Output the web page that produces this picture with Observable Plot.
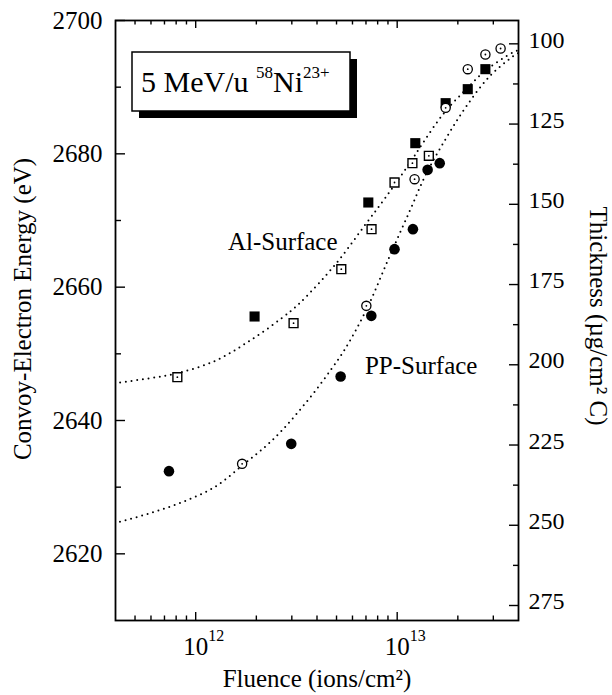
<!DOCTYPE html>
<html>
<head>
<meta charset="utf-8">
<script src="https://cdn.jsdelivr.net/npm/d3@7"></script>
<script src="https://cdn.jsdelivr.net/npm/@observablehq/plot@0.6"></script>
<style>
  html, body { margin: 0; padding: 0; background: #fff; }
  #chart { position: relative; width: 612px; height: 695px; }
</style>
</head>
<body>
<div id="chart"></div>
<script>
// ---- Data ----
// Al-surface, filled squares
const alFilledFluence = [1.96e12, 7.19e12, 1.23e13, 1.74e13, 2.24e13, 2.74e13];
const alFilledEnergy  = [2655.6, 2672.7, 2681.6, 2687.6, 2689.7, 2692.7];
// Al-surface, open squares
const alOpenFluence = [8.11e11, 3.06e12, 5.28e12, 7.46e12, 9.70e12, 1.19e13, 1.436e13];
const alOpenEnergy  = [2646.5, 2654.6, 2662.7, 2668.7, 2675.7, 2678.6, 2679.7];
// PP-surface, filled circles
const ppFilledFluence = [7.37e11, 2.98e12, 5.24e12, 7.44e12, 9.70e12, 1.197e13, 1.416e13, 1.626e13];
const ppFilledEnergy  = [2632.4, 2636.5, 2646.6, 2655.7, 2665.7, 2668.7, 2677.6, 2678.6];
// PP-surface, open circles
const ppOpenFluence = [1.70e12, 7.03e12, 1.22e13, 1.74e13, 2.24e13, 2.74e13, 3.26e13];
const ppOpenEnergy  = [2633.5, 2657.2, 2676.2, 2686.9, 2692.7, 2694.9, 2695.8];
// Fitted curves
const alCurveFluence = [3.96e11, 5.79e11, 8.11e11, 1.24e12, 1.82e12, 2.66e12, 3.28e12, 4.99e12, 7.03e12, 8.83e12, 1.153e13, 1.34e13, 1.685e13, 2.20e13, 2.77e13, 3.75e13, 4.05e13];
const alCurveEnergy  = [2645.6, 2646.3, 2647.1, 2648.9, 2651.8, 2655.3, 2657.6, 2663.6, 2669.6, 2673.6, 2678.6, 2681.6, 2685.9, 2689.7, 2692.6, 2695.2, 2695.6];
const ppCurveFluence = [3.96e11, 5.79e11, 8.49e11, 1.24e12, 1.71e12, 2.20e12, 2.66e12, 3.21e12, 3.89e12, 4.71e12, 5.48e12, 7.03e12, 9.16e12, 1.153e13, 1.393e13, 1.754e13, 2.20e13, 2.87e13, 3.75e13, 4.05e13];
const ppCurveEnergy  = [2624.6, 2626.0, 2627.7, 2630.0, 2633.3, 2636.0, 2638.4, 2641.2, 2644.3, 2647.7, 2650.6, 2656.6, 2664.6, 2671.4, 2677.0, 2682.4, 2687.1, 2691.6, 2694.6, 2695.2];

// Axis ticks
const xMajorTicks = [1e12, 1e13];
const xMajorExponents = ["12", "13"];
const xMinorTicks = [5e11, 6e11, 7e11, 8e11, 9e11, 2e12, 3e12, 4e12, 5e12, 6e12, 7e12, 8e12, 9e12, 2e13, 3e13];
const yMajorTicks = [2620, 2640, 2660, 2680, 2700];
const yMinorTicks = [2630, 2650, 2670, 2690];
const thicknessMajorTicks = [100, 125, 150, 175, 200, 225, 250, 275];
const thicknessMinorTicks = [112.5, 137.5, 162.5, 187.5, 212.5, 237.5, 262.5];
// Thickness <-> energy correspondence (right axis)
const thicknessRef = [100, 275];
const energyRef = [2696.5, 2612.25];

// Annotation labels
const labelText = ["Al-Surface", "PP-Surface"];
const labelFluence = [1.445e12, 6.92e12];
const labelEnergy = [2666.8, 2648.2];

// Titles
const xTitle = "Fluence (ions/cm²)";
const yTitle = "Convoy-Electron Energy (eV)";
const y2Title = "Thickness (µg/cm² C)";

// ---- Build tables ----
const zip = (xs, ys) => xs.map((x, i) => ({fluence: x, energy: ys[i]}));
const alFilled = zip(alFilledFluence, alFilledEnergy);
const alOpen = zip(alOpenFluence, alOpenEnergy);
const ppFilled = zip(ppFilledFluence, ppFilledEnergy);
const ppOpen = zip(ppOpenFluence, ppOpenEnergy);
const alCurve = zip(alCurveFluence, alCurveEnergy);
const ppCurve = zip(ppCurveFluence, ppCurveEnergy);
const labels = labelText.map((t, i) => ({text: t, fluence: labelFluence[i], energy: labelEnergy[i]}));
const tToE = d3.scaleLinear(thicknessRef, energyRef);
const eToT = tToE.invert;

const font = "Liberation Serif";
const W = 612, H = 695, mL = 115, mR = 94, mT = 20, mB = 75;
const fw = W - mL - mR, fh = H - mT - mB;
const dotted = {stroke: "#000", strokeWidth: 2, strokeDasharray: "0 5.7", strokeLinecap: "round", curve: "catmull-rom", clip: "frame"};
const tk = {stroke: "#000", strokeWidth: 1.4};

const plot = Plot.plot({
  width: W,
  height: H,
  marginLeft: mL,
  marginRight: mR,
  marginTop: mT,
  marginBottom: mB,
  x: {type: "log", domain: [4e11, 4e13], axis: null},
  y: {domain: [2610, 2700], axis: null},
  style: {fontFamily: font, fontSize: "25px", color: "#000", background: "#fff", overflow: "visible"},
  marks: [
    // curves
    Plot.line(alCurve, {x: "fluence", y: "energy", ...dotted}),
    Plot.line(ppCurve, {x: "fluence", y: "energy", ...dotted}),
    // left axis labels + inward ticks
    Plot.axisY({anchor: "left", ticks: yMajorTicks, tickSize: 0, tickPadding: 13, fontSize: 25, fontFamily: font, tickFormat: d => String(d), label: null}),
    Plot.ruleY(yMajorTicks, {y: d => d, insetRight: fw - 10, ...tk}),
    Plot.ruleY(yMinorTicks, {y: d => d, insetRight: fw - 6, ...tk}),
    // right axis (thickness)
    Plot.axisY({anchor: "right", ticks: thicknessMajorTicks.map(tToE), tickSize: 0, tickPadding: 10, dy: -4, fontSize: 24, fontFamily: font, tickFormat: d => String(Math.round(eToT(d))), label: null}),
    Plot.ruleY(thicknessMajorTicks, {y: d => tToE(d), insetLeft: fw - 9, ...tk}),
    Plot.ruleY(thicknessMinorTicks, {y: d => tToE(d), insetLeft: fw - 5, ...tk}),
    // bottom / top ticks
    Plot.ruleX(xMajorTicks, {x: d => d, insetTop: fh - 8, ...tk}),
    Plot.ruleX(xMinorTicks, {x: d => d, insetTop: fh - 4.5, ...tk}),
    Plot.ruleX(xMajorTicks, {x: d => d, insetBottom: fh - 8, ...tk}),
    Plot.ruleX(xMinorTicks, {x: d => d, insetBottom: fh - 4.5, ...tk}),
    // x tick labels 10^n
    Plot.text(xMajorTicks, {x: d => d, text: () => "10", frameAnchor: "bottom", lineAnchor: "bottom", dy: 34, fontSize: 25, fontFamily: font, textAnchor: "middle"}),
    Plot.text(xMajorTicks, {x: d => d, text: (d, i) => xMajorExponents[i], frameAnchor: "bottom", lineAnchor: "bottom", dy: 20, dx: 12.5, fontSize: 16, fontFamily: font, textAnchor: "start"}),
    // x axis title
    Plot.text([xTitle], {text: d => d, frameAnchor: "bottom", lineAnchor: "bottom", dy: 66, fontSize: 25, fontFamily: font}),
    // series labels
    Plot.text(labels, {x: "fluence", y: "energy", text: "text", textAnchor: "start", fontSize: 25, fontFamily: font}),
    // markers
    Plot.dot(alFilled, {x: "fluence", y: "energy", symbol: "square", r: 5.7, fill: "#000"}),
    Plot.dot(ppFilled, {x: "fluence", y: "energy", symbol: "circle", r: 5.3, fill: "#000"}),
    Plot.dot(alOpen, {x: "fluence", y: "energy", symbol: "square", r: 5.0, fill: "#fff", stroke: "#000", strokeWidth: 1.4}),
    Plot.dot(ppOpen, {x: "fluence", y: "energy", symbol: "circle", r: 4.6, fill: "#fff", stroke: "#000", strokeWidth: 1.3}),
    Plot.dot(alOpen, {x: "fluence", y: "energy", r: 0.9, fill: "#000"}),
    Plot.dot(ppOpen, {x: "fluence", y: "energy", r: 0.9, fill: "#000"}),
    Plot.frame({stroke: "#000", strokeWidth: 1.8})
  ]
});

document.getElementById("chart").appendChild(plot);

const svg = d3.select(plot);
// Rotated axis titles
svg.append("text").attr("transform", "translate(31,309) rotate(-90)")
  .attr("text-anchor", "middle").attr("font-family", font).attr("font-size", 25).attr("fill", "#000")
  .text(yTitle);
svg.append("text").attr("transform", "translate(590,316) rotate(90)")
  .attr("text-anchor", "middle").attr("font-family", font).attr("font-size", 25).attr("fill", "#000")
  .text(y2Title);

// Title box with drop shadow
const g = svg.append("g").attr("class", "title-box");
g.append("rect").attr("x", 139).attr("y", 59).attr("width", 218).attr("height", 59).attr("fill", "#000");
g.append("rect").attr("x", 132).attr("y", 52).attr("width", 218).attr("height", 59)
  .attr("fill", "#fff").attr("stroke", "#000").attr("stroke-width", 1.5);
const t = g.append("text").attr("x", 141).attr("y", 92).attr("text-anchor", "start")
  .attr("font-family", font).attr("font-size", 30).attr("fill", "#000").style("white-space", "pre");
t.append("tspan").text("5 MeV/u ");
t.append("tspan").attr("font-size", 17).attr("dy", -14.5).text("58");
t.append("tspan").attr("font-size", 30).attr("dy", 14.5).text("Ni");
t.append("tspan").attr("font-size", 17).attr("dy", -14.5).text("23+");
</script>
</body>
</html>
